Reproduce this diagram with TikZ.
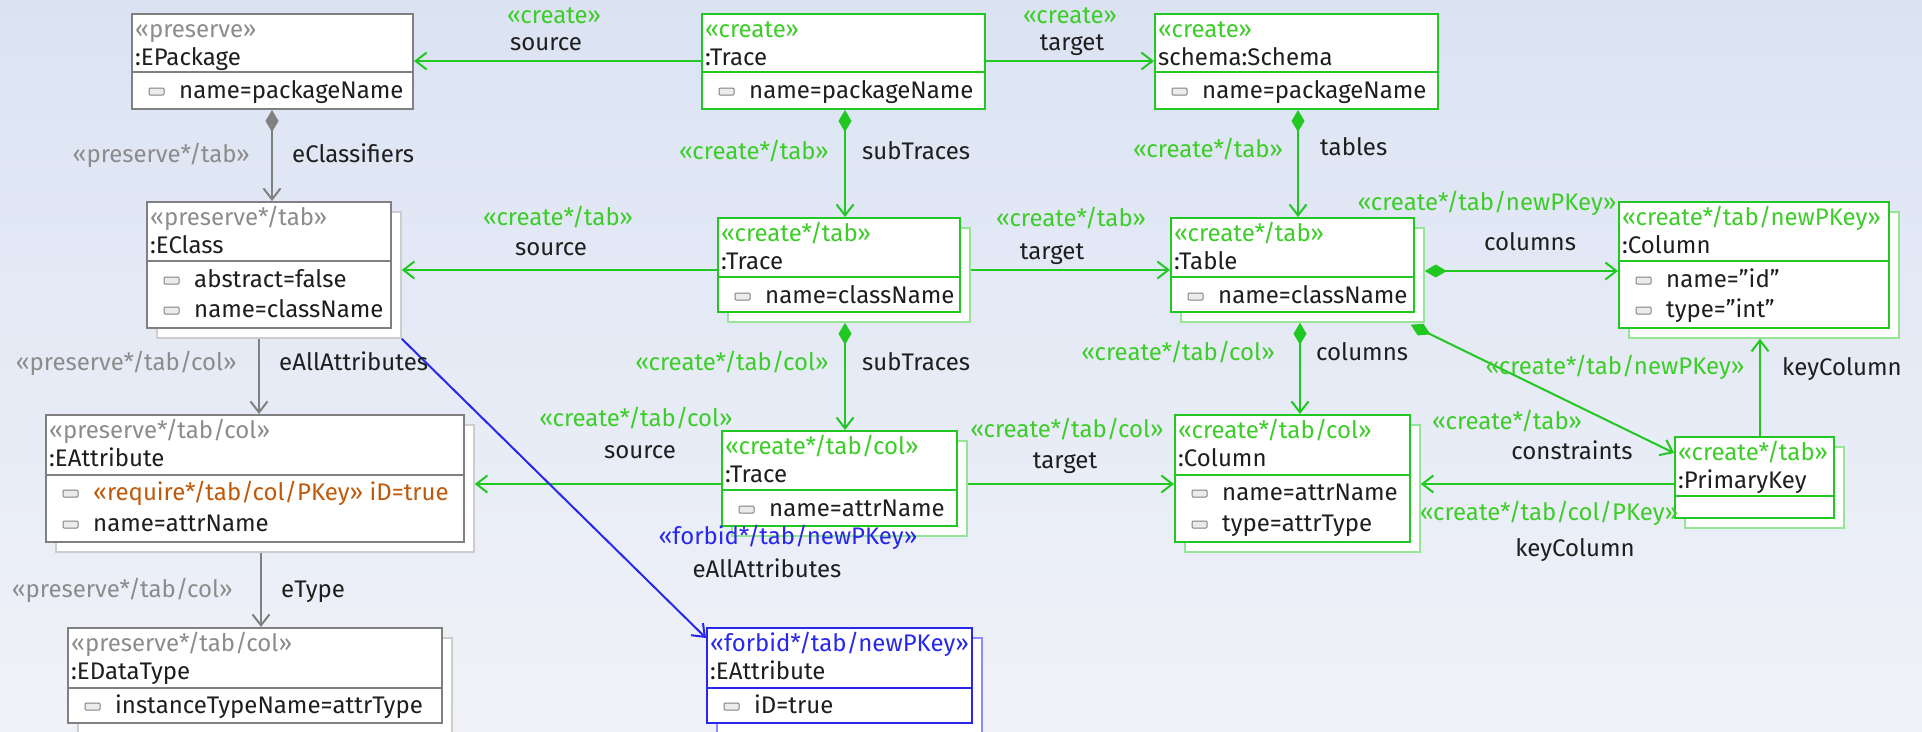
\documentclass[tikz,border=0pt]{standalone}
\usepackage{fontspec}
\setmainfont{Fira Sans}
\usetikzlibrary{arrows.meta}
\definecolor{gline}{RGB}{34,200,34}
\definecolor{gtext}{RGB}{60,205,40}
\definecolor{gshd}{RGB}{150,228,150}
\definecolor{kline}{RGB}{128,128,128}
\definecolor{ktext}{RGB}{140,140,140}
\definecolor{kshd}{RGB}{205,205,205}
\definecolor{bline}{RGB}{40,40,235}
\definecolor{bshd}{RGB}{140,140,250}
\definecolor{otext}{RGB}{190,90,10}
\definecolor{tblack}{RGB}{30,30,30}
\definecolor{bgtop}{RGB}{219,227,243}
\definecolor{bgbot}{RGB}{240,242,248}
\tikzset{
  txt/.style={inner sep=0pt, text=tblack},
  boxst/.style={draw=#1, fill=white, line width=2pt, inner sep=0pt},
  shst/.style={draw=#1, fill=white, line width=1.5pt, inner sep=0pt},
  icon/.style={draw=kline, fill=black!8, line width=1pt, rounded corners=1pt},
  conn/.style={line width=2pt, -{Straight Barb[length=11pt,width=17pt,line width=2pt]}},
  comp/.style={line width=2pt, {Diamond[length=22pt,width=13pt]}-{Straight Barb[length=11pt,width=17pt,line width=2pt]}}
}
% box: name, colour, x1, y1, x2, y2, divider y
\newcommand\objbox[7]{%
  \node[boxst=#2, minimum width={#5-#3}, minimum height={#6-#4}] (#1) at ({(#3+#5)/2},{(#4+#6)/2}) {};
  \draw[draw=#2, line width=2pt] (#3,#7) -- (#5,#7);}
% box with stacked shadow: name, colour, shadow colour, x1, y1, x2, y2, divider y
\newcommand\objboxS[8]{%
  \node[shst=#3, minimum width={#6-#4}, minimum height={#7-#5}] (#1s) at ({(#4+#6)/2+10},{(#5+#7)/2+10}) {};
  \objbox{#1}{#2}{#4}{#5}{#6}{#7}{#8}}
% header: box name, x1, y1, stereotype colour, stereotype, name
\newcommand\hdr[6]{%
  \node[txt, anchor=base west, text=#4] (#1-st) at (#2+3,#3+23) {#5};
  \node[txt, anchor=base west] (#1-nm) at (#2+3,#3+51) {#6};}
% attribute: [colour] node name, x1, centre y, text
\newcommand\attr[5][tblack]{%
  \draw[icon] (#3+17,#4-3) rectangle (#3+32,#4+4);
  \node[txt, anchor=base west, text=#1] (#2) at (#3+47,#4+7) {#5};}
\newcommand\dq{\char34\relax}
\begin{document}
\begin{tikzpicture}[x=1pt,y=-1pt,font=\fontsize{24}{28}\selectfont]
\useasboundingbox (0,0) rectangle (1922,731);
\clip (0,0) rectangle (1922,731);
\shade[top color=bgtop, bottom color=bgbot] (0,0) rectangle (1922,731);

% ---------- boxes ----------
\objbox{ep}{kline}{132}{14}{413}{109}{72}
\hdr{ep}{132}{14}{ktext}{«preserve»}{:EPackage}
\attr{ep-a1}{132}{91}{name=packageName}

\objbox{t1}{gline}{702}{14}{985}{109}{72}
\hdr{t1}{702}{14}{gtext}{«create»}{:Trace}
\attr{t1-a1}{702}{91}{name=packageName}

\objbox{sc}{gline}{1155}{14}{1438}{109}{72}
\hdr{sc}{1155}{14}{gtext}{«create»}{schema:Schema}
\attr{sc-a1}{1155}{91}{name=packageName}

\objboxS{ec}{kline}{kshd}{147}{202}{391}{328}{261}
\hdr{ec}{147}{202}{ktext}{«preserve*/tab»}{:EClass}
\attr{ec-a1}{147}{280}{abstract=false}
\attr{ec-a2}{147}{310}{name=className}

\objboxS{t2}{gline}{gshd}{718}{218}{960}{312}{277}
\hdr{t2}{718}{218}{gtext}{«create*/tab»}{:Trace}
\attr{t2-a1}{718}{296}{name=className}

\objboxS{tb}{gline}{gshd}{1171}{218}{1414}{312}{277}
\hdr{tb}{1171}{218}{gtext}{«create*/tab»}{:Table}
\attr{tb-a1}{1171}{296}{name=className}

\objboxS{c1}{gline}{gshd}{1619}{202}{1889}{328}{261}
\hdr{c1}{1619}{202}{gtext}{«create*/tab/newPKey»}{:Column}
\attr{c1-a1}{1619}{280}{name=\dq id\dq}
\attr{c1-a2}{1619}{310}{type=\dq int\dq}

\objboxS{ea}{kline}{kshd}{46}{415}{464}{542}{475}
\hdr{ea}{46}{415}{ktext}{«preserve*/tab/col»}{:EAttribute}
\attr[otext]{ea-a1}{46}{493}{«require*/tab/col/PKey» iD=true}
\attr{ea-a2}{46}{524}{name=attrName}

\objboxS{t3}{gline}{gshd}{722}{431}{957}{526}{490}
\hdr{t3}{722}{431}{gtext}{«create*/tab/col»}{:Trace}
\attr{t3-a1}{722}{509}{name=attrName}

\objboxS{c2}{gline}{gshd}{1175}{415}{1410}{542}{475}
\hdr{c2}{1175}{415}{gtext}{«create*/tab/col»}{:Column}
\attr{c2-a1}{1175}{493}{name=attrName}
\attr{c2-a2}{1175}{524}{type=attrType}

\objboxS{pk}{gline}{gshd}{1675}{437}{1834}{518}{496}
\hdr{pk}{1675}{437}{gtext}{«create*/tab»}{:PrimaryKey}

\objboxS{dt}{kline}{kshd}{68}{628}{442}{723}{688}
\hdr{dt}{68}{628}{ktext}{«preserve*/tab/col»}{:EDataType}
\attr{dt-a1}{68}{706}{instanceTypeName=attrType}

\objboxS{fa}{bline}{bshd}{707}{628}{972}{723}{688}
\hdr{fa}{707}{628}{bline}{«forbid*/tab/newPKey»}{:EAttribute}
\attr{fa-a1}{707}{706}{iD=true}

% ---------- connectors ----------
\draw[conn, gline] (t1.west |- 0,61) -- (ep.east |- 0,61);
\draw[conn, gline] (t1.east |- 0,61) -- (sc.west |- 0,61);
\draw[comp, kline] (ep.south -| 272,0) -- (ec.north -| 272,0);
\draw[comp, gline] (t1.south -| 845,0) -- (t2.north -| 845,0);
\draw[comp, gline] (sc.south -| 1298,0) -- (tb.north -| 1298,0);
\draw[conn, gline] (t2.west |- 0,270) -- (ecs.east |- 0,270);
\draw[conn, gline] (t2s.east |- 0,270) -- (tb.west |- 0,270);
\draw[comp, gline] (tbs.east |- 0,271) -- (c1.west |- 0,271);
\draw[conn, kline] (ecs.south -| 259,0) -- (ea.north -| 259,0);
\draw[comp, gline] (t2s.south -| 845,0) -- (t3.north -| 845,0);
\draw[comp, gline] (tbs.south -| 1300,0) -- (c2.north -| 1300,0);
\draw[comp, gline] ([xshift=-14pt,yshift=-2pt]tbs.south east) -- (pk.west |- 0,453);
\draw[conn, gline] (pk.north -| 1760,0) -- (c1s.south -| 1760,0);
\draw[conn, gline] (t3.west |- 0,484) -- (eas.east |- 0,484);
\draw[conn, gline] (t3s.east |- 0,484) -- (c2.west |- 0,484);
\draw[conn, gline] (pk.west |- 0,484) -- (c2s.east |- 0,484);
\draw[conn, kline] (eas.south -| 261,0) -- (dt.north -| 261,0);
\draw[conn, bline] (ecs.south east) -- (fa.west |- 0,638);

% ---------- connector labels ----------
\node[txt, anchor=base, text=gtext] (l1s) at (554,23) {«create»};
\node[txt, anchor=base] (l1n) at (546,50) {source};
\node[txt, anchor=base, text=gtext] (l2s) at (1070,23) {«create»};
\node[txt, anchor=base] (l2n) at (1072,50) {target};
\node[txt, anchor=base east, text=ktext] (l3s) at (250,162) {«preserve*/tab»};
\node[txt, anchor=base west] (l3n) at (292,162) {eClassifiers};
\node[txt, anchor=base east, text=gtext] (l4s) at (829,159) {«create*/tab»};
\node[txt, anchor=base west] (l4n) at (862,159) {subTraces};
\node[txt, anchor=base east, text=gtext] (l5s) at (1283,157) {«create*/tab»};
\node[txt, anchor=base west] (l5n) at (1320,155) {tables};
\node[txt, anchor=base, text=gtext] (l6s) at (558,225) {«create*/tab»};
\node[txt, anchor=base] (l6n) at (551,255) {source};
\node[txt, anchor=base, text=gtext] (l7s) at (1071,226) {«create*/tab»};
\node[txt, anchor=base] (l7n) at (1052,259) {target};
\node[txt, anchor=base, text=gtext] (l8s) at (1487,210) {«create*/tab/newPKey»};
\node[txt, anchor=base] (l8n) at (1530,250) {columns};
\node[txt, anchor=base east, text=ktext] (l9s) at (237,370) {«preserve*/tab/col»};
\node[txt, anchor=base west] (l9n) at (279,370) {eAllAttributes};
\node[txt, anchor=base east, text=gtext] (l10s) at (829,370) {«create*/tab/col»};
\node[txt, anchor=base west] (l10n) at (862,370) {subTraces};
\node[txt, anchor=base east, text=gtext] (l11s) at (1275,360) {«create*/tab/col»};
\node[txt, anchor=base west] (l11n) at (1316,360) {columns};
\node[txt, anchor=base, text=gtext] (l12s) at (1615,374) {«create*/tab/newPKey»};
\node[txt, anchor=base west] (l12n) at (1782,375) {keyColumn};
\node[txt, anchor=base, text=gtext] (l13s) at (636,426) {«create*/tab/col»};
\node[txt, anchor=base] (l13n) at (640,458) {source};
\node[txt, anchor=base, text=gtext] (l14s) at (1067,437) {«create*/tab/col»};
\node[txt, anchor=base] (l14n) at (1065,468) {target};
\node[txt, anchor=base, text=gtext] (l15s) at (1507,429) {«create*/tab»};
\node[txt, anchor=base] (l15n) at (1572,459) {constraints};
\node[txt, anchor=base, text=gtext] (l16s) at (1549,520) {«create*/tab/col/PKey»};
\node[txt, anchor=base] (l16n) at (1575,556) {keyColumn};
\node[txt, anchor=base, text=bline] (l17s) at (788,544) {«forbid*/tab/newPKey»};
\node[txt, anchor=base] (l17n) at (767,577) {eAllAttributes};
\node[txt, anchor=base east, text=ktext] (l18s) at (233,597) {«preserve*/tab/col»};
\node[txt, anchor=base west] (l18n) at (281,597) {eType};
\end{tikzpicture}
\end{document}
